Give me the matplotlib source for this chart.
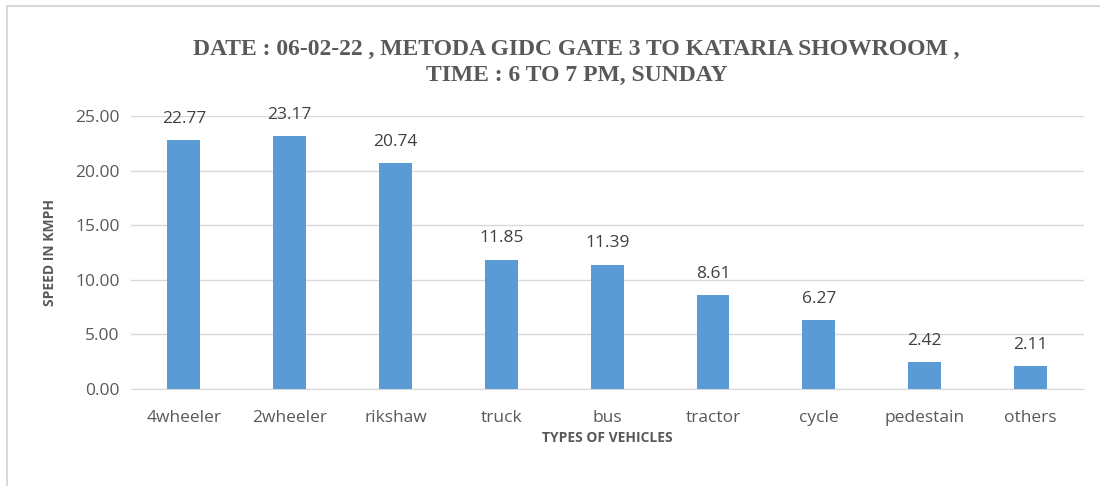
import matplotlib.pyplot as plt
from matplotlib.lines import Line2D

vehicles = ["4wheeler", "2wheeler", "rikshaw", "truck", "bus", "tractor", "cycle", "pedestain", "others"]
speeds = [22.77, 23.17, 20.74, 11.85, 11.39, 8.61, 6.27, 2.42, 2.11]
yticks = [0, 5, 10, 15, 20, 25]

GRAY = "#595959"
BLUE = "#5b9bd5"
SANS = ["Open Sans", "DejaVu Sans"]

fig = plt.figure(figsize=(11, 4.86), dpi=100)
ax = fig.add_axes([0.119, 0.2, 0.866, 0.561])

x = range(len(vehicles))
ax.bar(x, speeds, width=0.31, color=BLUE, zorder=3)
for xi, v in zip(x, speeds):
    ax.text(xi, v + 1.2, f"{v:.2f}", ha="center", va="bottom", fontsize=12.5,
            color="#404040", family=SANS, zorder=4)

ax.set_xlim(-0.5, len(vehicles) - 0.5)
ax.set_ylim(0, 25)
ax.set_yticks(yticks)
ax.set_yticklabels([f"{t:.2f}" for t in yticks], fontsize=12.5, color=GRAY, family=SANS)
ax.set_xticks(list(x))
ax.set_xticklabels(vehicles, fontsize=12.5, color=GRAY, family=SANS)
ax.tick_params(length=0, pad=8)
ax.tick_params(axis="x", pad=15)
ax.grid(axis="y", color="#d9d9d9", lw=1, zorder=0)
for s in ["top", "right", "left"]:
    ax.spines[s].set_visible(False)
ax.spines["bottom"].set_color("#d9d9d9")

ax.set_xlabel("TYPES OF VEHICLES", fontsize=10, fontweight="bold", color=GRAY,
              family=SANS, labelpad=4)
ax.set_ylabel("SPEED IN KMPH", fontsize=10, fontweight="bold", color=GRAY,
              family=SANS, labelpad=13)

fig.text(0.524, 0.872, "DATE : 06-02-22 , METODA GIDC GATE 3 TO KATARIA SHOWROOM ,\nTIME : 6 TO 7 PM, SUNDAY",
         ha="center", va="center", fontsize=17, fontweight="bold", color=GRAY,
         family=["Liberation Serif", "DejaVu Serif"], linespacing=1.32)

# chart frame (top and left edges visible)
fig.add_artist(Line2D([0.0065, 0.0065], [0, 0.988], transform=fig.transFigure, color="#d9d9d9", lw=1.5))
fig.add_artist(Line2D([0.0065, 1], [0.988, 0.988], transform=fig.transFigure, color="#d9d9d9", lw=1.5))

fig.savefig("out.png", dpi=100, facecolor="white")
